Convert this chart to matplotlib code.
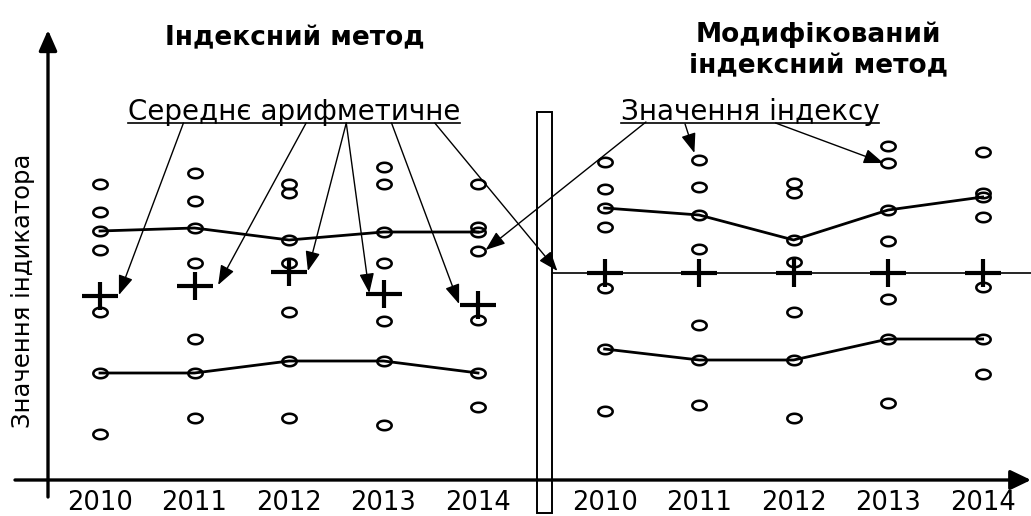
import matplotlib
matplotlib.use("Agg")
import matplotlib.pyplot as plt
from matplotlib.path import Path
from matplotlib.patches import Rectangle
import numpy as np

plt.rcParams['font.family'] = ['DejaVu Sans']

# ---------------- data ----------------
years = ['2010', '2011', '2012', '2013', '2014']

# Індексний метод (left panel)
idx_circles = [
    [29.6, 26.8, 24.9, 23.0, 16.8, 10.7, 4.6],
    [30.7, 27.9, 25.2, 21.7, 14.1, 10.7, 6.2],
    [29.6, 28.7, 24.0, 21.7, 16.8, 11.9, 6.2],
    [31.3, 29.6, 24.8, 21.7, 15.9, 11.9, 5.5],
    [29.6, 25.3, 24.8, 22.9, 16.0, 10.7, 7.3],
]
idx_upper = [24.9, 25.2, 24.0, 24.8, 24.8]
idx_lower = [10.7, 10.7, 11.9, 11.9, 10.7]
idx_mean = [18.4, 19.4, 20.8, 18.6, 17.5]

# Модифікований індексний метод (right panel)
mod_circles = [
    [31.8, 29.1, 27.2, 25.3, 19.2, 13.1, 6.9],
    [32.0, 29.3, 26.5, 23.1, 15.5, 12.0, 7.5],
    [29.7, 28.7, 24.0, 21.8, 16.8, 12.0, 6.2],
    [33.4, 31.7, 27.0, 23.9, 18.1, 14.1, 7.7],
    [32.8, 28.7, 28.3, 26.3, 19.3, 14.1, 10.6],
]
mod_upper = [27.2, 26.5, 24.0, 27.0, 28.3]
mod_lower = [13.1, 12.0, 12.0, 14.1, 14.1]
mod_index = 20.7

# ---------------- layout ----------------
W, H = 1031, 516
fig = plt.figure(figsize=(W / 100, H / 100), dpi=100)
ax = fig.add_axes([0, 0, 1, 1])
ax.set_xlim(-100 / 94.5, (W - 100) / 94.5)
ax.set_ylim((480 - H) / 10, 48)
ax.axis('off')

left_x = np.arange(5) * 1.0
right_x = left_x + 5.34

# markers
t = np.linspace(0, 2 * np.pi, 60)
ellipse = Path(np.column_stack([np.cos(t), 0.66 * np.sin(t)]), closed=True)
plus = Path([(-1, 0), (1, 0), (0, -0.755), (0, 0.755)],
            [Path.MOVETO, Path.LINETO, Path.MOVETO, Path.LINETO])

def draw_panel(xs, circles, upper, lower, means):
    for x, vals in zip(xs, circles):
        ax.plot([x] * len(vals), vals, linestyle='none', marker=ellipse,
                markersize=10.3, markerfacecolor='none', markeredgecolor='black',
                markeredgewidth=1.85, zorder=3)
    ax.plot(xs, upper, color='black', lw=2.0, zorder=2)
    ax.plot(xs, lower, color='black', lw=2.0, zorder=2)
    ax.plot(xs, means, linestyle='none', marker=plus, markersize=26,
            markeredgecolor='black', markeredgewidth=3.0, zorder=4)

draw_panel(left_x, idx_circles, idx_upper, idx_lower, idx_mean)
draw_panel(right_x, mod_circles, mod_upper, mod_lower, [mod_index] * 5)

# separator & index line
sep_l, sep_r = (537 - 100) / 94.5, (552 - 100) / 94.5
ax.add_patch(Rectangle((sep_l, (480 - 513) / 10), sep_r - sep_l, (513 - 112) / 10,
                       fill=False, edgecolor='black', lw=1.4, zorder=5))
ax.plot([sep_r, ax.get_xlim()[1]], [mod_index, mod_index], color='black', lw=1.2, zorder=1)

# axes arrows
ax.annotate('', xy=((48 - 100) / 94.5, 45.0), xytext=((48 - 100) / 94.5, -1.7),
            arrowprops=dict(arrowstyle='-|>,head_length=1.25,head_width=0.55',
                            mutation_scale=10, lw=2.4, color='black',
                            shrinkA=0, shrinkB=0), zorder=6)
ax.annotate('', xy=(ax.get_xlim()[1], 0), xytext=((15 - 100) / 94.5, 0),
            arrowprops=dict(arrowstyle='-|>,head_length=1.25,head_width=0.6',
                            mutation_scale=10, lw=2.4, color='black',
                            shrinkA=0, shrinkB=0), zorder=6)

# tick labels
for x, lab in zip(np.concatenate([left_x, right_x]), years + years):
    ax.text(x, (480 - 510) / 10, lab, ha='center', va='baseline', fontsize=18.5)

# titles
ax.text(2.06, 43.5, 'Індексний метод', ha='center', va='baseline',
        fontsize=19, fontweight='bold')
ax.text(7.6, 43.8, 'Модифікований', ha='center', va='baseline',
        fontsize=19, fontweight='bold')
ax.text(7.6, 40.7, 'індексний метод', ha='center', va='baseline',
        fontsize=19, fontweight='bold')

# y label
ax.text(-0.81, 18.9, 'Значення індикатора', rotation=90, ha='center', va='center',
        fontsize=17.5)

# callout labels
lab1 = ax.text(2.05, 36.05, 'Середнє арифметичне', ha='center', va='baseline', fontsize=20)
lab2 = ax.text(6.88, 36.05, 'Значення індексу', ha='center', va='baseline', fontsize=20)
fig.canvas.draw()
inv = ax.transData.inverted()
for lab in (lab1, lab2):
    bb = lab.get_window_extent()
    (x0, _), (x1, _) = inv.transform([(bb.x0, bb.y0), (bb.x1, bb.y0)])
    ax.plot([x0, x1], [35.75, 35.75], color='black', lw=1.2)

arrow_kw = dict(arrowstyle='-|>,head_length=1.2,head_width=0.45', mutation_scale=10,
                lw=1.0, color='black', shrinkA=0, shrinkB=0)
src_y = 35.7
# from "Середнє арифметичне" to the means
starts = [0.883, 2.181, 2.606, 2.606, 3.085]
offs = [0.2, 0.25, 0.2, -0.15, -0.2]
for i, (sx, o) in enumerate(zip(starts, offs)):
    ax.annotate('', xy=(left_x[i] + o, idx_mean[i] + 0.1), xytext=(sx, src_y),
                arrowprops=arrow_kw, zorder=5)
ax.annotate('', xy=(right_x[0] - 0.5, mod_index + 0.2), xytext=(3.543, src_y),
            arrowprops=arrow_kw, zorder=5)
# from "Значення індексу" to index values
ax.annotate('', xy=(left_x[4] + 0.08, idx_circles[4][3] + 0.1), xytext=(5.777, 35.8),
            arrowprops=arrow_kw, zorder=5)
ax.annotate('', xy=(right_x[1] - 0.05, mod_circles[1][0] + 0.7), xytext=(6.191, 35.6),
            arrowprops=arrow_kw, zorder=5)
ax.annotate('', xy=(right_x[3] - 0.05, mod_circles[3][1]), xytext=(7.149, 35.7),
            arrowprops=arrow_kw, zorder=5)

fig.savefig('out.png', dpi=100)
